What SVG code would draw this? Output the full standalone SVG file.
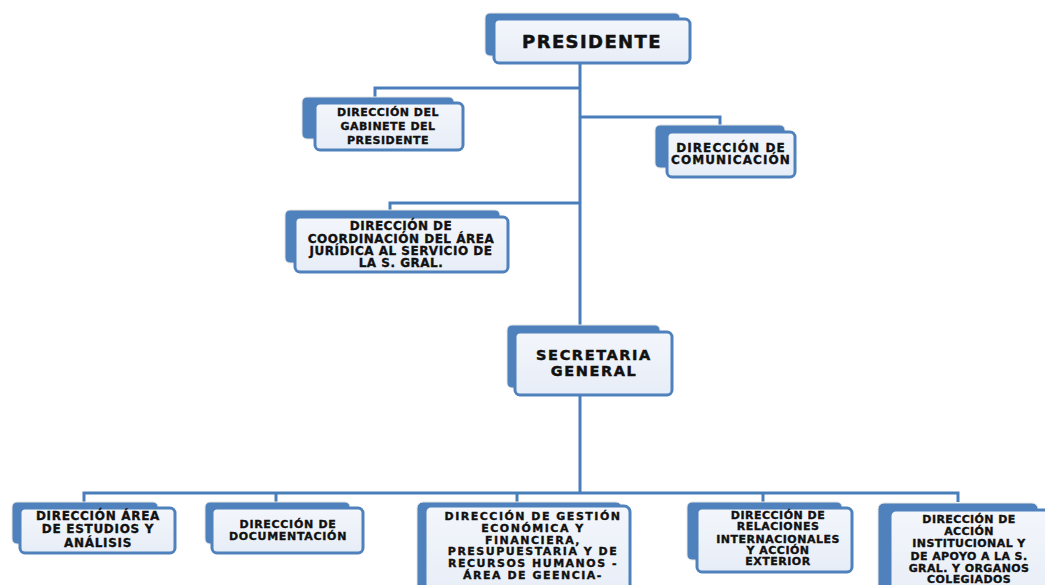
<svg xmlns="http://www.w3.org/2000/svg" width="1045" height="585" viewBox="0 0 1045 585">
<defs>
<linearGradient id="fg" x1="0" y1="0" x2="0" y2="1">
<stop offset="0" stop-color="#F3F6FB"/>
<stop offset="1" stop-color="#E7EDF7"/>
</linearGradient>
</defs>
<style>
.back{fill:#4F81BD;stroke:#E4E4E4;stroke-width:1}
.front{fill:url(#fg);stroke:#4F81BD;stroke-width:3}
.conn{fill:none;stroke:#4A7EBB;stroke-width:3}
text{font-family:"DejaVu Sans","Liberation Sans",sans-serif;font-weight:bold;fill:#111;stroke:#111;stroke-width:0.35;text-anchor:middle}
.s11{font-size:11px;letter-spacing:0.5px}
.s12{font-size:12px;letter-spacing:0.5px}
</style>
<rect width="1045" height="585" fill="#FFFFFF"/>
<g id="connectors">
<path class="conn" d="M580,62 V493"/>
<path class="conn" d="M580,88 H375 V97"/>
<path class="conn" d="M580,117 H720 V125"/>
<path class="conn" d="M580,203 H390 V210"/>
<path class="conn" d="M84,502 V493 H958 V502"/>
<path class="conn" d="M276,493 V502"/>
<path class="conn" d="M517,493 V502"/>
<path class="conn" d="M763,493 V502"/>
</g>
<g id="presidente">
<rect class="back" x="485" y="13" width="195" height="43" rx="5"/>
<rect class="front" x="494" y="19" width="196" height="44" rx="5"/>
<text x="592" y="47.5" style="font-size:18px;letter-spacing:1.4px;stroke-width:0.5">PRESIDENTE</text>
</g>
<g id="gabinete">
<rect class="back" x="302" y="97" width="152" height="42" rx="5"/>
<rect class="front" x="315" y="103" width="148" height="47" rx="5"/>
<text class="s11" x="388" y="116">DIRECCIÓN DEL</text>
<text class="s11" x="388" y="130">GABINETE DEL</text>
<text class="s11" x="388" y="143.5">PRESIDENTE</text>
</g>
<g id="comunicacion">
<rect class="back" x="655" y="125" width="130" height="43" rx="5"/>
<rect class="front" x="667" y="132" width="128" height="45" rx="5"/>
<text x="731" y="152" style="font-size:12px;letter-spacing:1.1px">DIRECCIÓN DE</text>
<text x="731" y="164" style="font-size:12px;letter-spacing:1.1px">COMUNICACIÓN</text>
</g>
<g id="coordinacion">
<rect class="back" x="285" y="210" width="215" height="53" rx="5"/>
<rect class="front" x="295" y="217" width="213" height="55" rx="5"/>
<text class="s12" x="401" y="230">DIRECCIÓN DE</text>
<text class="s12" x="401" y="242.5">COORDINACIÓN DEL ÁREA</text>
<text class="s12" x="401" y="255">JURÍDICA AL SERVICIO DE</text>
<text class="s12" x="401" y="267">LA S. GRAL.</text>
</g>
<g id="secretaria">
<rect class="back" x="507" y="325" width="153" height="63" rx="5"/>
<rect class="front" x="515" y="332" width="157" height="63" rx="5"/>
<text x="594" y="360" style="font-size:14.5px;letter-spacing:1.6px;stroke-width:0.45">SECRETARIA</text>
<text x="594" y="375.5" style="font-size:14.5px;letter-spacing:1.6px;stroke-width:0.45">GENERAL</text>
</g>
<g id="estudios">
<rect class="back" x="12" y="502" width="146" height="42" rx="5"/>
<rect class="front" x="20" y="508" width="155" height="45" rx="5"/>
<text x="98" y="520" style="font-size:12px;letter-spacing:0.7px">DIRECCIÓN ÁREA</text>
<text x="98" y="533" style="font-size:12px;letter-spacing:0.7px">DE ESTUDIOS Y</text>
<text x="98" y="546.5" style="font-size:12px;letter-spacing:0.7px">ANÁLISIS</text>
</g>
<g id="documentacion">
<rect class="back" x="205" y="502" width="145" height="42" rx="5"/>
<rect class="front" x="212" y="508" width="151" height="45" rx="5"/>
<text x="288" y="528" style="font-size:11px;letter-spacing:0.7px">DIRECCIÓN DE</text>
<text x="288" y="540" style="font-size:11px;letter-spacing:0.7px">DOCUMENTACIÓN</text>
</g>
<g id="gestion">
<rect class="back" x="417" y="502" width="205" height="95" rx="6"/>
<rect class="front" x="425" y="506" width="205" height="95" rx="6"/>
<text x="533" y="520" style="font-size:11px;letter-spacing:1.5px">DIRECCIÓN DE GESTIÓN</text>
<text x="533" y="532" style="font-size:11px;letter-spacing:1.5px">ECONÓMICA Y</text>
<text x="533" y="543.5" style="font-size:11px;letter-spacing:1.5px">FINANCIERA,</text>
<text x="533" y="555" style="font-size:11px;letter-spacing:1.5px">PRESUPUESTARIA Y DE</text>
<text x="533" y="567" style="font-size:11px;letter-spacing:1.5px">RECURSOS HUMANOS -</text>
<text x="533" y="578.5" style="font-size:11px;letter-spacing:1.5px">ÁREA DE GEENCIA-</text>
</g>
<g id="relaciones">
<rect class="back" x="687" y="502" width="155" height="58" rx="5"/>
<rect class="front" x="697" y="508" width="155" height="64" rx="5"/>
<text class="s11" x="778" y="518.5">DIRECCIÓN DE</text>
<text class="s11" x="778" y="530">RELACIONES</text>
<text class="s11" x="778" y="542.5">INTERNACIONALES</text>
<text class="s11" x="778" y="553.5">Y ACCIÓN</text>
<text class="s11" x="778" y="565">EXTERIOR</text>
</g>
<g id="accion">
<rect class="back" x="878" y="503" width="160" height="95" rx="6"/>
<rect class="front" x="890" y="510" width="160" height="95" rx="6"/>
<text x="969" y="523" style="font-size:11px;letter-spacing:0.4px">DIRECCIÓN DE</text>
<text x="969" y="535" style="font-size:11px;letter-spacing:0.4px">ACCIÓN</text>
<text x="969" y="547" style="font-size:11px;letter-spacing:0.4px">INSTITUCIONAL Y</text>
<text x="969" y="559.5" style="font-size:11px;letter-spacing:0.4px">DE APOYO A LA S.</text>
<text x="969" y="571.5" style="font-size:11px;letter-spacing:0.4px">GRAL. Y ORGANOS</text>
<text x="969" y="583" style="font-size:11px;letter-spacing:0.4px">COLEGIADOS</text>
</g>
</svg>
